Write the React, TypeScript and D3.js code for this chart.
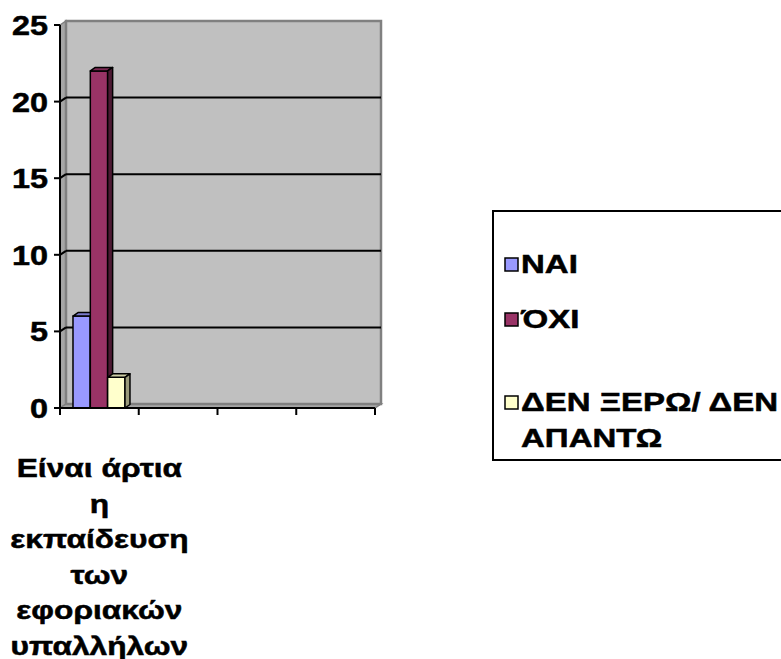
import React from "react";
import * as d3 from "d3";

// Survey answers per question (one question, three answer groups)
const categories = ["Είναι άρτια η εκπαίδευση των εφοριακών υπαλλήλων", "", "", ""];
const categoryLines = [["Είναι άρτια", "η", "εκπαίδευση", "των", "εφοριακών", "υπαλλήλων"], [], [], []];
const seriesNames = ["ΝΑΙ", "ΌΧΙ", "ΔΕΝ ΞΕΡΩ/ ΔΕΝ ΑΠΑΝΤΩ"];
const legendLines = [["ΝΑΙ"], ["ΌΧΙ"], ["ΔΕΝ ΞΕΡΩ/ ΔΕΝ", "ΑΠΑΝΤΩ"]];
const valuesNai = [6];
const valuesOxi = [22];
const valuesDenXero = [2];
const yTicks = [0, 5, 10, 15, 20, 25];

const seriesValues = [valuesNai, valuesOxi, valuesDenXero];
const fronts = ["#9999FF", "#993366", "#FFFFCC"];
const tops = ["#7a7acc", "#7a2952", "#ccccA3"];
const sides = ["#5c5c99", "#4d1a33", "#99997a"];

const W = 781;
const H = 659;
const FONT = "Arial, 'Liberation Sans', sans-serif";

export default function App() {
  const x0 = 60;
  const x1 = 375;
  const y = d3.scaleLinear().domain([0, 25]).range([408, 25]);
  const catKeys = categories.map((c, i) => i + ":" + c);
  const xCat = d3.scaleBand<string>().domain(catKeys).range([x0, x1]);
  const bw = xCat.bandwidth();
  const xSer = d3.scaleBand<string>().domain(seriesNames).range([bw * 0.165, bw * 0.825]);
  const wdx = 6;
  const wdy = -4;
  const bdx = 5;
  const bdy = -3.5;
  const yb = y(0);
  const yt = y(25);

  const bars: React.ReactNode[] = [];
  categories.forEach((c, ci) => {
    const bx = xCat(catKeys[ci])!;
    seriesNames.forEach((s, si) => {
      const v = seriesValues[si][ci];
      if (v == null) return;
      const l = bx + xSer(s)!;
      const r = l + xSer.bandwidth();
      const t = y(v);
      bars.push(
        <g key={`${ci}-${si}`} stroke="#000" strokeWidth={1.5} strokeLinejoin="round">
          <rect x={l} y={t} width={r - l} height={yb - t} fill={fronts[si]} />
          <polygon points={`${l},${t} ${l + bdx},${t + bdy} ${r + bdx},${t + bdy} ${r},${t}`} fill={tops[si]} />
          <polygon points={`${r},${t} ${r + bdx},${t + bdy} ${r + bdx},${yb + bdy} ${r},${yb}`} fill={sides[si]} />
        </g>
      );
    });
  });

  const textStyle = { stroke: "#000", strokeWidth: 0.5 };

  return (
    <svg width={W} height={H} style={{ display: "block", position: "absolute", left: 0, top: 0 }} fontFamily={FONT} fontWeight="bold">
      {/* walls */}
      <polygon points={`${x0},${yt} ${x0 + wdx},${yt + wdy} ${x0 + wdx},${yb + wdy} ${x0},${yb}`} fill="#a6a6a6" stroke="#808080" strokeWidth={1.5} />
      <polygon points={`${x0},${yb} ${x0 + wdx},${yb + wdy} ${x1 + wdx},${yb + wdy} ${x1},${yb}`} fill="#a6a6a6" stroke="#808080" strokeWidth={1.5} />
      <rect x={x0 + wdx} y={yt + wdy} width={x1 - x0} height={yb - yt} fill="#c0c0c0" stroke="#808080" strokeWidth={2.5} />
      {/* gridlines */}
      {yTicks.filter((t) => t > 0 && t < 25).map((t) => (
        <g key={t} stroke="#000" strokeWidth={2}>
          <line x1={x0 + wdx} x2={x1 + wdx} y1={y(t) + wdy} y2={y(t) + wdy} />
          <line x1={x0} x2={x0 + wdx} y1={y(t)} y2={y(t) + wdy} />
        </g>
      ))}
      {bars}
      {/* axes */}
      <line x1={x0} x2={x0} y1={yt} y2={yb} stroke="#000" strokeWidth={2} />
      <line x1={x0} x2={x1} y1={yb} y2={yb} stroke="#000" strokeWidth={2} />
      {yTicks.map((t) => (
        <g key={t}>
          <line x1={x0 - 6} x2={x0} y1={y(t)} y2={y(t)} stroke="#000" strokeWidth={2} />
          <text transform={`translate(${x0 - 12},${y(t) + 10}) scale(1.2,1)`} textAnchor="end" fontSize={27} style={textStyle}>
            {t}
          </text>
        </g>
      ))}
      {catKeys.map((k, i) => {
        const bx = xCat(k)!;
        return <line key={i} x1={bx} x2={bx} y1={yb} y2={yb + 7} stroke="#000" strokeWidth={2} />;
      })}
      <line x1={x1} x2={x1} y1={yb} y2={yb + 7} stroke="#000" strokeWidth={2} />
      {categoryLines.map((lines, i) => {
        const cx = xCat(catKeys[i])! + bw / 2;
        return lines.map((ln, k) => (
          <text key={`${i}-${k}`} transform={`translate(${cx},${477 + k * 35.5}) scale(1.22,1)`} textAnchor="middle" fontSize={26} style={textStyle}>
            {ln}
          </text>
        ));
      })}
      {/* legend */}
      <rect x={493} y={211} width={320} height={249} fill="#fff" stroke="#000" strokeWidth={2} />
      {legendLines.map((lines, i) => {
        const sy = [258, 313, 396][i];
        return (
          <g key={i}>
            <rect x={505} y={sy} width={13} height={13} fill={fronts[i]} stroke="#000" strokeWidth={1.5} />
            {lines.map((ln, k) => (
              <text key={k} transform={`translate(${521},${sy + 15 + k * 36}) scale(1.32,1)`} fontSize={25} style={textStyle}>
                {ln}
              </text>
            ))}
          </g>
        );
      })}
    </svg>
  );
}
